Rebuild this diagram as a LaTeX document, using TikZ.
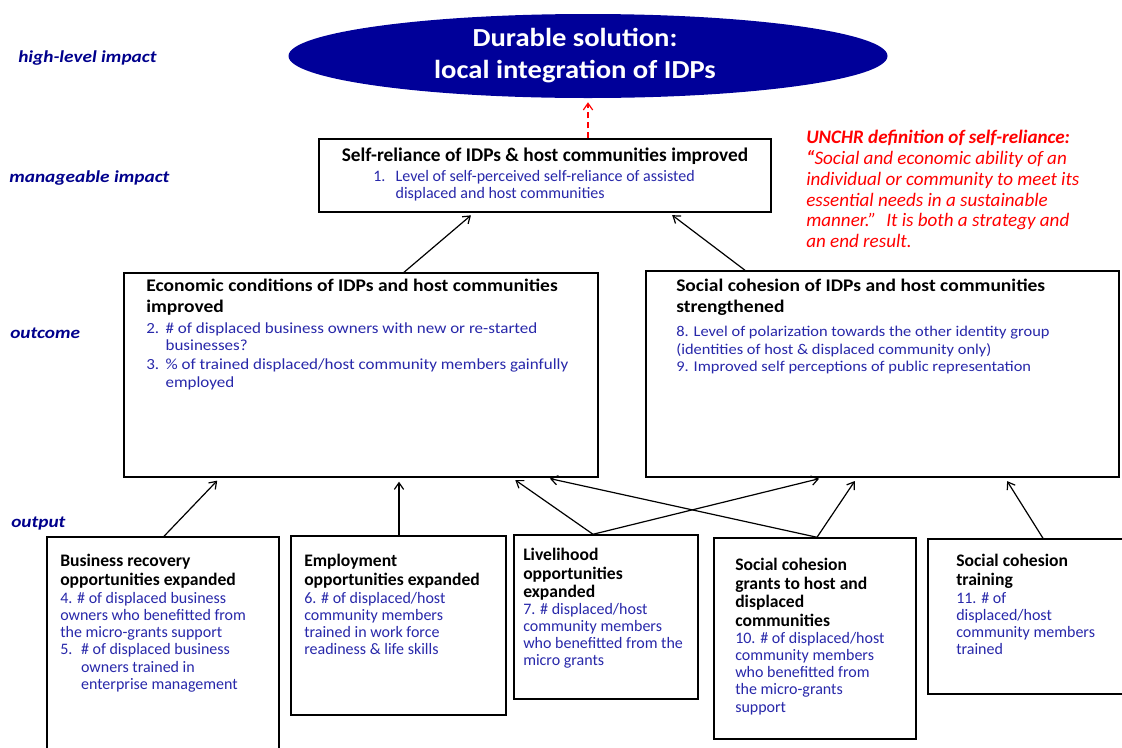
\documentclass[tikz,border=0pt]{standalone}
\usepackage{fontspec}
\setmainfont{Carlito}
\newfontfamily\widefont[FakeStretch=1.1]{Carlito}
\newfontfamily\lblfont[FakeStretch=1.15]{Carlito}
\newfontfamily\ellfont[FakeStretch=1.1]{Carlito}
\usetikzlibrary{arrows.meta,shapes.geometric,fit}
\definecolor{lblblue}{RGB}{0,0,140}
\definecolor{ellblue}{RGB}{0,0,153}
\definecolor{itemblue}{RGB}{40,40,170}
\definecolor{defred}{RGB}{255,0,0}
\tikzset{
  box/.style={draw, line width=1.1pt, inner sep=0pt, fill=white},
  arr/.style={-{Straight Barb[length=5pt,width=7pt]}, line width=0.9pt, shorten >=3pt},
  lbl/.style={anchor=west, inner sep=0pt, text=lblblue, font=\lblfont\bfseries\itshape\fontsize{12.6}{14}\selectfont},
  ttl/.style={anchor=north west, inner sep=0pt, align=left, font=\bfseries\fontsize{13.2}{13.9}\selectfont},
  itm/.style={anchor=north west, inner sep=0pt, align=left, text=itemblue, font=\fontsize{12}{12.9}\selectfont},
  bigttl/.style={anchor=north west, inner sep=0pt, align=left, font=\widefont\bfseries\fontsize{13.3}{15.8}\selectfont},
  bigitm/.style={anchor=north west, inner sep=0pt, align=left, text=itemblue, font=\widefont\fontsize{11.2}{13.1}\selectfont},
}
\newcommand{\hg}[1]{\makebox[1.3em][l]{#1}}
\newcommand{\hs}{\hspace*{1.3em}}
\begin{document}
\begin{tikzpicture}[x=0.75pt,y=-0.75pt]
\useasboundingbox (0,0) rectangle (1122,747);
\clip (0,0) rectangle (1122,747);

% level labels
\node[lbl] (l1) at (18,58) {high-level impact};
\node[lbl] (l2) at (9,178) {manageable impact};
\node[lbl] (l3) at (10,333) {outcome};
\node[lbl] (l4) at (11,524) {output};

% ellipse
\node[ellipse, fill=ellblue, inner sep=0pt, minimum width=449.25pt, minimum height=63pt] (goal) at (588,56) {};
\node[inner sep=0pt, text=white, align=center, font=\ellfont\bfseries\fontsize{19.5}{24}\selectfont] (goaltxt) at (575,56)
      {Durable solution:\\local integration of IDPs};

% self-reliance
\node[box, fit={(319,139) (771,212)}] (sr) {};
\node[anchor=center, inner sep=0pt, font=\bfseries\fontsize{14.5}{16}\selectfont] (srt) at (545,156)
  {Self-reliance of IDPs \& host communities improved};
\node[itm, font=\fontsize{12}{13}\selectfont] (sri) at (373,170)
  {\makebox[1.4em][l]{1.}Level of self-perceived self-reliance of assisted\\\hspace*{1.4em}displaced and host communities};

% definition
\node[anchor=north west, inner sep=0pt, align=left, text=defred,
      font=\itshape\fontsize{14.3}{15.6}\selectfont] (def) at (806,130)
  {\textbf{UNCHR definition of self-reliance:}\\\textbf{“}Social and economic ability of an\\individual or community to meet its\\essential needs in a sustainable\\manner.”~ It is both a strategy and\\an end result.};

% outcomes
\node[box, fit={(124,273) (598,477)}] (econ) {};
\node[bigttl] (econt) at (146,279) {Economic conditions of IDPs and host communities\\improved};
\node[bigitm, font=\widefont\fontsize{11.6}{13.1}\selectfont] (econi) at (146,322)
  {\makebox[1.25em][l]{2.}\# of displaced business owners with new or re-started\\\hspace*{1.25em}businesses?\\[1.5pt]
   \makebox[1.25em][l]{3.}\% of trained displaced/host community members gainfully\\\hspace*{1.25em}employed};

\node[box, fit={(646,271) (1119,477)}] (soc) {};
\node[bigttl] (soct) at (676,279) {Social cohesion of IDPs and host communities\\strengthened};
\node[bigitm] (soci) at (676,326)
  {8. Level of polarization towards the other identity group\\(identities of host \& displaced community only)\\9. Improved self perceptions of public representation};

% outputs
\node[box, fit={(47,537) (279,760)}] (o1) {};
\node[ttl] (o1t) at (60,554) {Business recovery\\opportunities expanded};
\node[itm] (o1i) at (60,592)
  {4. \# of displaced business\\owners who benefitted from\\the micro-grants support\\
   \hg{5.}\# of displaced business\\\hs owners trained in\\\hs enterprise management};

\node[box, fit={(291,536) (506,715)}] (o2) {};
\node[ttl] (o2t) at (304,554) {Employment\\opportunities expanded};
\node[itm] (o2i) at (304,592)
  {6. \# of displaced/host\\community members\\trained in work force\\readiness \& life skills};

\node[box, fit={(514,535) (698,699)}] (o3) {};
\node[ttl] (o3t) at (523,548) {Livelihood\\opportunities\\expanded};
\node[itm] (o3i) at (523,603)
  {7. \# displaced/host\\community members\\who benefitted from the\\micro grants};

\node[box, fit={(714,538) (916,739)}] (o4) {};
\node[ttl] (o4t) at (735,558) {Social cohesion\\grants to host and\\displaced\\communities};
\node[itm] (o4i) at (735,632)
  {10. \# of displaced/host\\community members\\who benefitted from\\the micro-grants\\support};

\node[box, fit={(928,539) (1140,694)}] (o5) {};
\node[ttl] (o5t) at (956,554) {Social cohesion\\training};
\node[itm] (o5i) at (956,592)
  {11. \# of\\displaced/host\\community members\\trained};

% connectors
\draw[arr, dash pattern=on 4.5pt off 3pt, draw=defred] (sr.north -| 588,0) -- (goal.south);
\draw[arr] (econ.north -| 404,0) -- (sr.south -| 474,0);
\draw[arr] (soc.north -| 745,0) -- (sr.south -| 669,0);
\draw[arr] (o1.north -| 164,0) -- (econ.south -| 220,0);
\draw[arr] (o2.north -| 399,0) -- (econ.south -| 399,0);
\draw[arr] (o3.north -| 593,0) -- (econ.south -| 512,0);
\draw[arr] (o3.north -| 593,0) -- (soc.south -| 823,0);
\draw[arr] (o4.north -| 817,0) -- (econ.south -| 546,0);
\draw[arr] (o4.north -| 817,0) -- (soc.south -| 857,0);
\draw[arr] (o5.north -| 1043,0) -- (soc.south -| 1005,0);
\end{tikzpicture}
\end{document}
